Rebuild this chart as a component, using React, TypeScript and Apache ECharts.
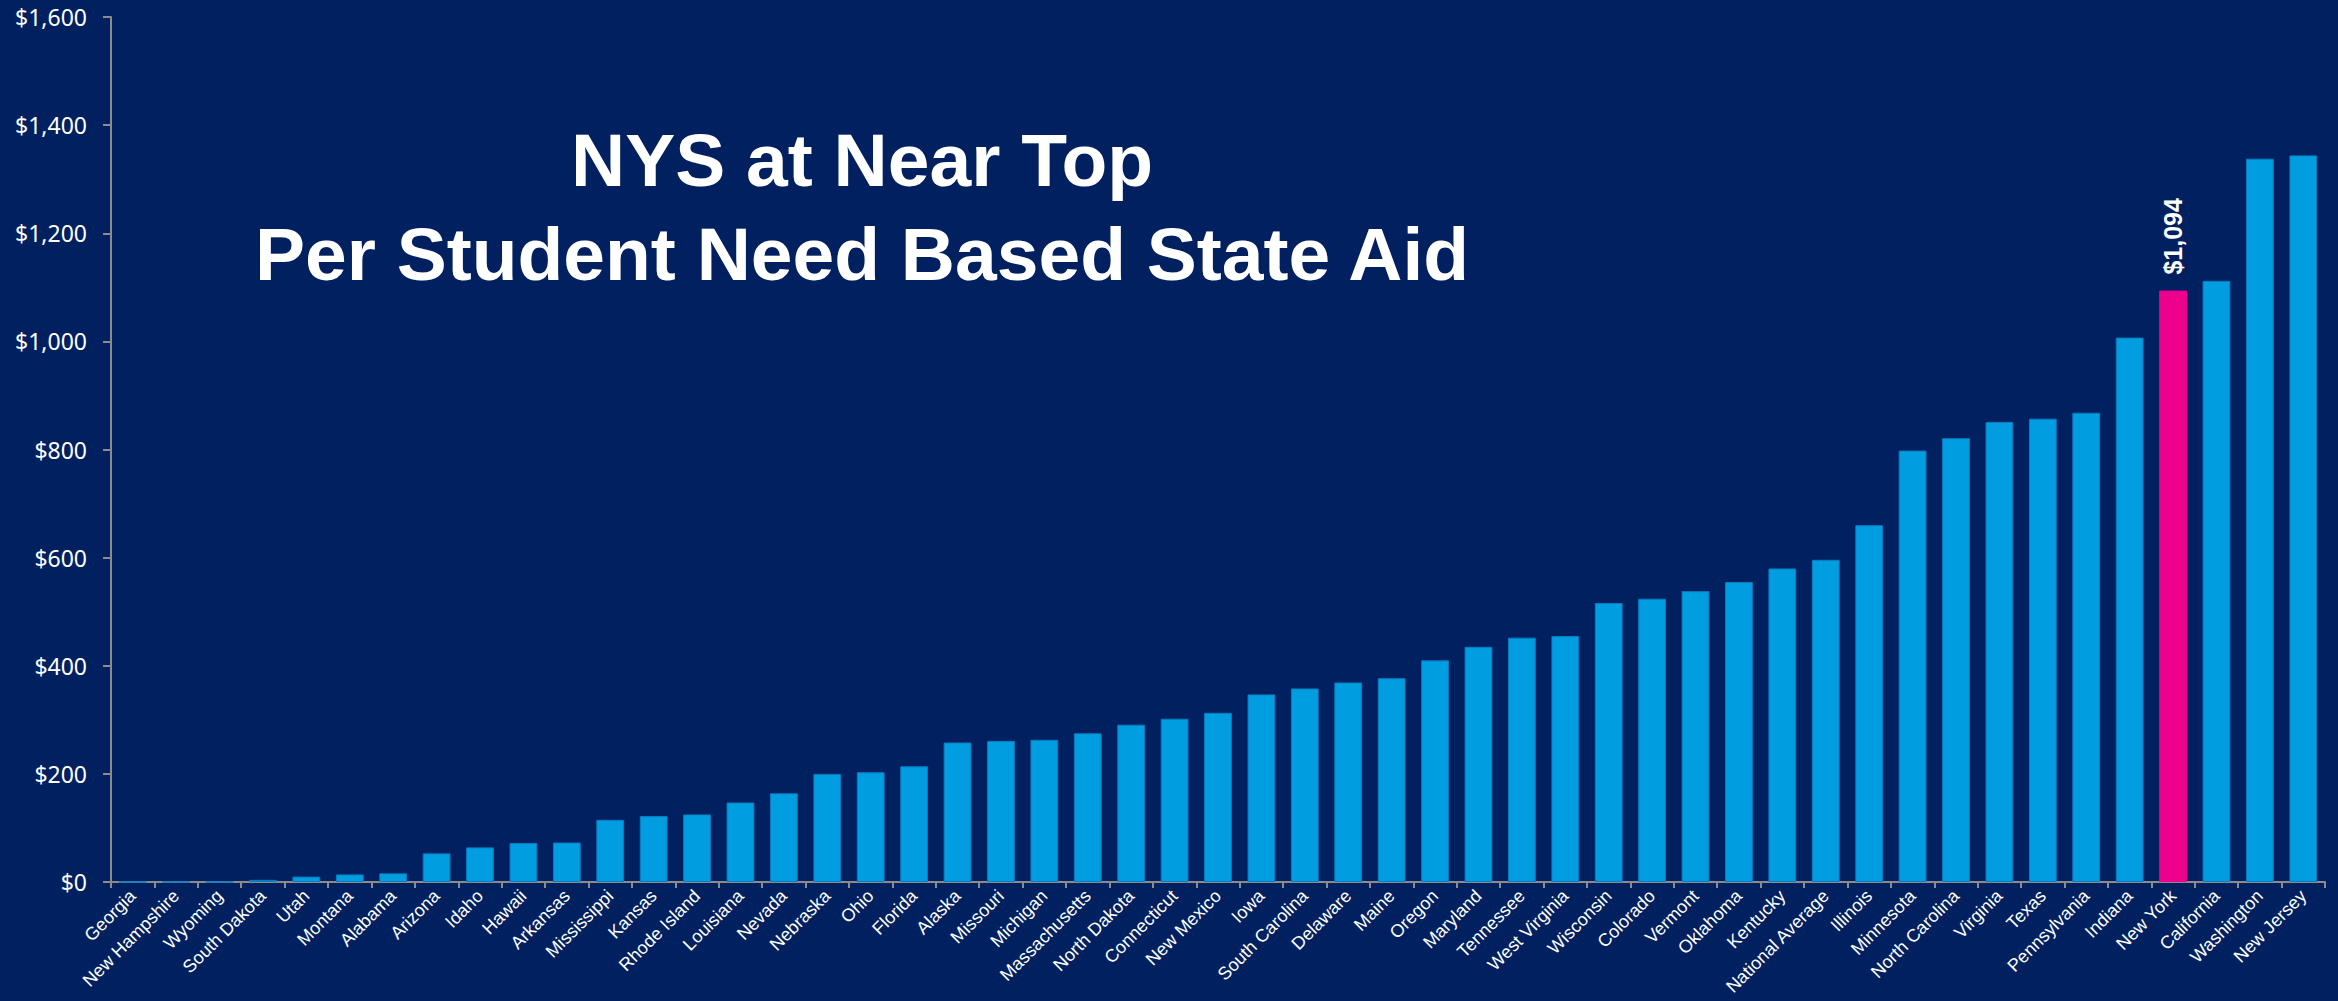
import React, { useEffect, useRef } from "react";
import * as echarts from "echarts";

const categories = [
  "Georgia", "New Hampshire", "Wyoming", "South Dakota", "Utah", "Montana", "Alabama",
  "Arizona", "Idaho", "Hawaii", "Arkansas", "Mississippi", "Kansas", "Rhode Island",
  "Louisiana", "Nevada", "Nebraska", "Ohio", "Florida", "Alaska", "Missouri", "Michigan",
  "Massachusetts", "North Dakota", "Connecticut", "New Mexico", "Iowa", "South Carolina",
  "Delaware", "Maine", "Oregon", "Maryland", "Tennessee", "West Virginia", "Wisconsin",
  "Colorado", "Vermont", "Oklahoma", "Kentucky", "National Average", "Illinois",
  "Minnesota", "North Carolina", "Virginia", "Texas", "Pennsylvania", "Indiana",
  "New York", "California", "Washington", "New Jersey",
];

const values = [
  0, 0, 0, 4, 10, 14, 16,
  53, 64, 72, 73, 115, 122, 125,
  147, 164, 200, 203, 214, 258, 261, 263,
  275, 291, 302, 313, 347, 358,
  369, 377, 410, 435, 452, 455, 516,
  524, 538, 555, 580, 596, 660,
  798, 821, 851, 857, 868, 1007,
  1094, 1112, 1338, 1344,
];

const highlight = "New York";
const titleLines = ["NYS at Near Top", "Per Student Need Based State Aid"];
const yTicks = { min: 0, max: 1600, interval: 200 };

export default function App() {
  const ref = useRef<HTMLDivElement>(null);
  useEffect(() => {
    if (!ref.current) return;
    const chart = echarts.init(ref.current, null, { renderer: "svg" });
    const data = categories.map((c, i) => {
      if (c === highlight) {
        return {
          value: values[i],
          itemStyle: { color: "#EC008C", borderColor: "#EC008C" },
          label: {
            show: true,
            position: "top",
            rotate: 90,
            align: "left",
            verticalAlign: "middle",
            distance: 16,
            color: "#ffffff",
            fontFamily: "Liberation Sans, Arial, sans-serif",
            fontWeight: "bold",
            fontSize: 25,
            formatter: (p: any) => "$" + Number(p.value).toLocaleString("en-US"),
          },
        };
      }
      return { value: values[i] };
    });
    chart.setOption({
      animation: false,
      backgroundColor: "#00205F",
      grid: { left: 111, right: 13, top: 17, bottom: 119, containLabel: false },
      xAxis: {
        type: "category",
        data: categories,
        axisLine: { show: true, lineStyle: { color: "#8c8c8c", width: 2 } },
        axisTick: { show: true, length: 6, lineStyle: { color: "#8c8c8c", width: 2 } },
        axisLabel: {
          interval: 0,
          rotate: 45,
          color: "#ffffff",
          fontFamily: "Liberation Sans, Arial, sans-serif",
          fontSize: 18,
          margin: 11,
        },
      },
      yAxis: {
        type: "value",
        min: yTicks.min,
        max: yTicks.max,
        interval: yTicks.interval,
        splitLine: { show: false },
        axisLine: { show: true, lineStyle: { color: "#8c8c8c", width: 2 } },
        axisTick: { show: true, length: 8, lineStyle: { color: "#8c8c8c", width: 2 } },
        axisLabel: {
          color: "#ffffff",
          fontFamily: "Noto Sans, Open Sans, sans-serif",
          fontSize: 23,
          margin: 24,
          formatter: (v: number) => "$" + v.toLocaleString("en-US"),
        },
      },
      series: [
        {
          type: "bar",
          data,
          barWidth: "64%",
          itemStyle: { color: "#009EE0", borderColor: "#0B7BC0", borderWidth: 1 },
        },
      ],
      graphic: [
        {
          type: "text",
          x: 862,
          y: 160,
          style: {
            text: titleLines[0],
            fill: "#ffffff",
            font: "bold 75px 'Liberation Sans', Arial, sans-serif",
            textAlign: "center",
            textVerticalAlign: "middle",
          },
        },
        {
          type: "text",
          x: 862,
          y: 254,
          style: {
            text: titleLines[1],
            fill: "#ffffff",
            font: "bold 75px 'Liberation Sans', Arial, sans-serif",
            textAlign: "center",
            textVerticalAlign: "middle",
          },
        },
      ],
    });
    return () => chart.dispose();
  }, []);
  return (
    <div
      style={{
        position: "fixed",
        left: 0,
        top: 0,
        width: 2338,
        height: 1001,
        overflow: "hidden",
        background: "#00205F",
      }}
    >
      <div ref={ref} style={{ width: 2338, height: 1001, overflow: "hidden" }} />
    </div>
  );
}
